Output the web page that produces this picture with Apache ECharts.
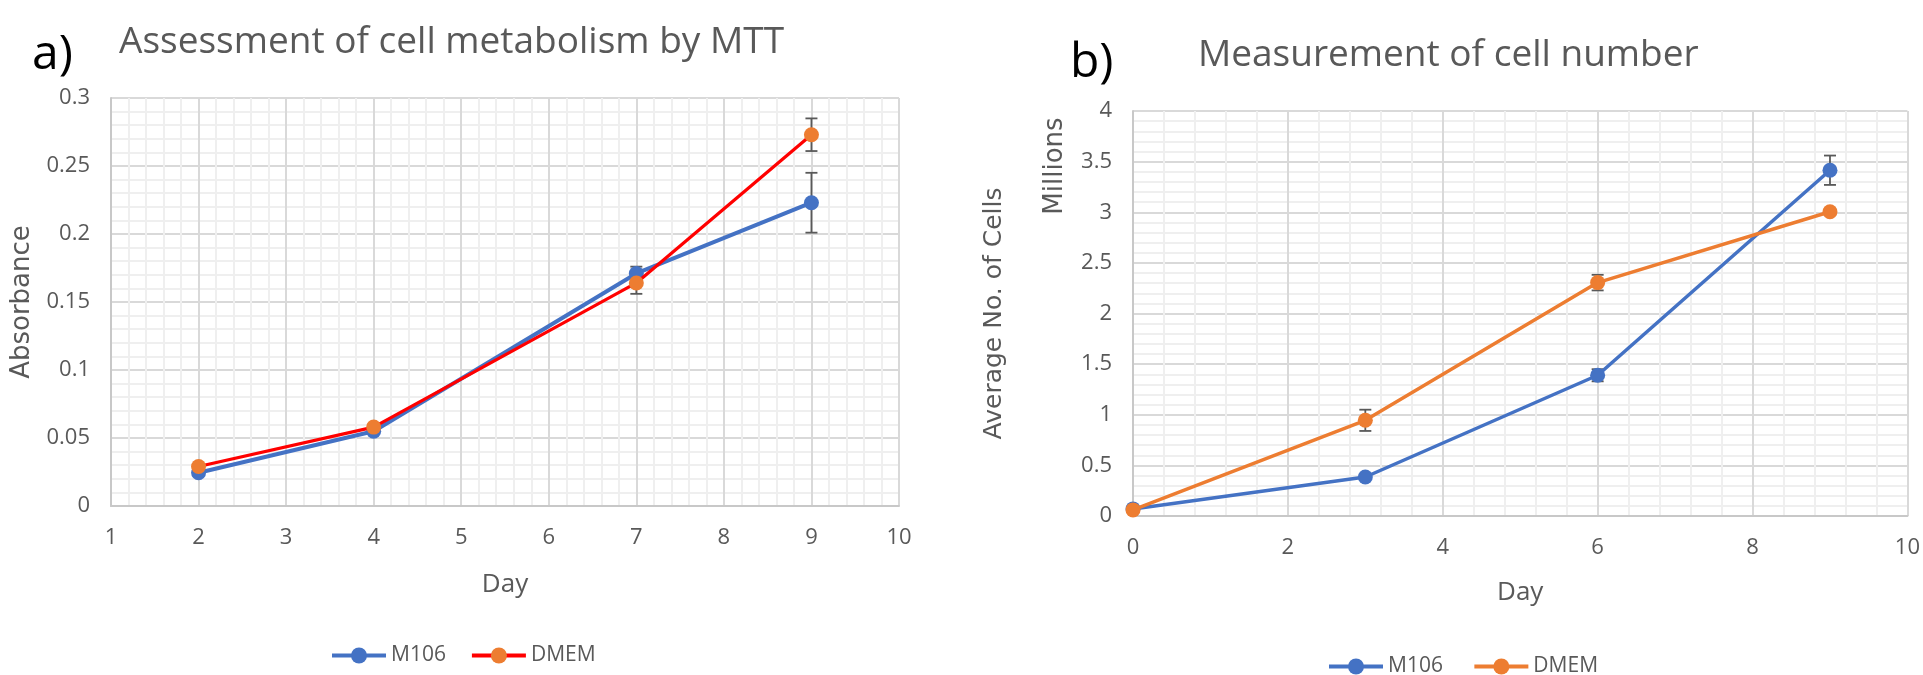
<!DOCTYPE html>
<html>
<head>
<meta charset="utf-8">
<script src="https://cdn.jsdelivr.net/npm/echarts@6/dist/echarts.min.js"></script>
<style>
html,body{margin:0;padding:0;background:#fff;}
#c{width:1923px;height:675px;}
</style>
</head>
<body>
<div id="c"></div>
<script>
// ---- data ----
const daysA = [2, 4, 7, 9];
const m106A = [0.0245, 0.055, 0.171, 0.223];
const m106AErr = [0.002, 0.002, 0.005, 0.022];
const dmemA = [0.029, 0.058, 0.164, 0.273];
const dmemAErr = [0.002, 0.002, 0.008, 0.012];

const daysB = [0, 3, 6, 9];
const m106B = [0.07, 0.385, 1.39, 3.415];
const m106BErr = [0.01, 0.02, 0.06, 0.145];
const dmemB = [0.06, 0.945, 2.305, 3.005];
const dmemBErr = [0.01, 0.105, 0.077, 0.03];

const seriesNames = ['M106', 'DMEM'];

// ---- styling ----
const SANS = '"Open Sans", "Noto Sans", sans-serif';
const WIDE = '"DejaVu Sans", "Noto Sans", sans-serif';
const GRAY = '#595959';
const BLUE = '#4472C4';
const ORANGE = '#ED7D31';
const RED = '#FF0000';

function pts(xs, ys) { return xs.map((x, i) => [x, ys[i]]); }
function errPts(xs, ys, es) { return xs.map((x, i) => [x, ys[i], es[i]]); }

function errRender(params, api) {
  const x = api.value(0), y = api.value(1), e = api.value(2);
  const hi = api.coord([x, y + e]);
  const lo = api.coord([x, y - e]);
  const w = 6;
  const st = { stroke: '#595959', lineWidth: 1.8 };
  return {
    type: 'group',
    children: [
      { type: 'line', shape: { x1: hi[0], y1: hi[1], x2: lo[0], y2: lo[1] }, style: st },
      { type: 'line', shape: { x1: hi[0] - w, y1: hi[1], x2: hi[0] + w, y2: hi[1] }, style: st },
      { type: 'line', shape: { x1: lo[0] - w, y1: lo[1], x2: lo[0] + w, y2: lo[1] }, style: st }
    ]
  };
}

const tickLabel = { color: GRAY, fontFamily: SANS, fontSize: 22, margin: 21 };

function valAxis(extra) {
  return Object.assign({
    type: 'value',
    axisLine: { show: true, lineStyle: { color: '#C8C8C8', width: 2 } },
    axisTick: { show: false },
    axisLabel: tickLabel,
    splitLine: { show: true, lineStyle: { color: '#D9D9D9', width: 2 } },
    minorTick: { show: true, splitNumber: 5, length: 0 },
    minorSplitLine: { show: true, lineStyle: { color: '#EFEFEF', width: 2 } }
  }, extra);
}

const chart = echarts.init(document.getElementById('c'), null, { renderer: 'canvas' });

const legendText = { color: GRAY, fontFamily: SANS, fontSize: 21 };

const option = {
  backgroundColor: '#fff',
  animation: false,
  title: [
    { text: 'a)', left: 27, top: 26, textStyle: { color: '#000', fontFamily: SANS, fontSize: 48, fontWeight: 'normal' } },
    { text: 'Assessment of cell metabolism by MTT', left: 114, top: 19, textStyle: { color: GRAY, fontFamily: SANS, fontSize: 37, fontWeight: 'normal' } },
    { text: 'b)', left: 1065, top: 34, textStyle: { color: '#000', fontFamily: SANS, fontSize: 48, fontWeight: 'normal' } },
    { text: 'Measurement of cell number', left: 1193, top: 32, textStyle: { color: GRAY, fontFamily: SANS, fontSize: 37, fontWeight: 'normal' } }
  ],
  graphic: [
    { type: 'text', x: 1055, y: 166, rotation: Math.PI / 2, style: { text: 'Millions', fill: GRAY, font: '26px ' + WIDE, align: 'center', verticalAlign: 'middle' } }
  ],
  legend: [
    { data: seriesNames.slice(), left: 325, top: 640, itemWidth: 54, itemHeight: 20, itemGap: 24,
      lineStyle: { width: 4 }, textStyle: legendText, selectedMode: false },
    { data: seriesNames.map(n => n + ' '), left: 1322, top: 651, itemWidth: 54, itemHeight: 20, itemGap: 24,
      lineStyle: { width: 4 }, textStyle: legendText, selectedMode: false }
  ],
  grid: [
    { left: 111, top: 98, width: 788, height: 408 },
    { left: 1133, top: 111, width: 785, height: 405 }
  ],
  xAxis: [
    valAxis({ gridIndex: 0, min: 1, max: 10, interval: 1, name: 'Day', nameLocation: 'middle', nameGap: 66,
      nameTextStyle: { color: GRAY, fontFamily: SANS, fontSize: 26 } }),
    valAxis({ gridIndex: 1, min: 0, max: 10, interval: 2, name: 'Day', nameLocation: 'middle', nameGap: 64,
      nameTextStyle: { color: GRAY, fontFamily: SANS, fontSize: 26 } })
  ],
  yAxis: [
    valAxis({ gridIndex: 0, min: 0, max: 0.3, interval: 0.05, name: 'Absorbance', nameLocation: 'middle', nameGap: 76, nameRotate: 90,
      nameTextStyle: { color: GRAY, fontFamily: WIDE, fontSize: 26 } }),
    valAxis({ gridIndex: 1, min: 0, max: 4, interval: 0.5, name: 'Average No. of Cells', nameLocation: 'middle', nameGap: 126, nameRotate: 90,
      nameTextStyle: { color: GRAY, fontFamily: WIDE, fontSize: 25 } })
  ],
  series: [
    { type: 'custom', xAxisIndex: 0, yAxisIndex: 0, data: errPts(daysA, m106A, m106AErr), renderItem: errRender, z: 2, silent: true },
    { type: 'custom', xAxisIndex: 0, yAxisIndex: 0, data: errPts(daysA, dmemA, dmemAErr), renderItem: errRender, z: 2, silent: true },
    { name: 'M106', type: 'line', xAxisIndex: 0, yAxisIndex: 0, data: pts(daysA, m106A),
      symbol: 'circle', symbolSize: 15, lineStyle: { color: BLUE, width: 4 }, itemStyle: { color: BLUE }, z: 3 },
    { name: 'DMEM', type: 'line', xAxisIndex: 0, yAxisIndex: 0, data: pts(daysA, dmemA),
      symbol: 'circle', symbolSize: 15, lineStyle: { color: RED, width: 3.2 }, itemStyle: { color: ORANGE }, z: 4 },

    { type: 'custom', xAxisIndex: 1, yAxisIndex: 1, data: errPts(daysB, m106B, m106BErr), renderItem: errRender, z: 2, silent: true },
    { type: 'custom', xAxisIndex: 1, yAxisIndex: 1, data: errPts(daysB, dmemB, dmemBErr), renderItem: errRender, z: 2, silent: true },
    { name: 'M106 ', type: 'line', xAxisIndex: 1, yAxisIndex: 1, data: pts(daysB, m106B),
      symbol: 'circle', symbolSize: 15, lineStyle: { color: BLUE, width: 3.5 }, itemStyle: { color: BLUE }, z: 3 },
    { name: 'DMEM ', type: 'line', xAxisIndex: 1, yAxisIndex: 1, data: pts(daysB, dmemB),
      symbol: 'circle', symbolSize: 15, lineStyle: { color: ORANGE, width: 3.5 }, itemStyle: { color: ORANGE }, z: 4 }
  ]
};
chart.setOption(option);
</script>
</body>
</html>
